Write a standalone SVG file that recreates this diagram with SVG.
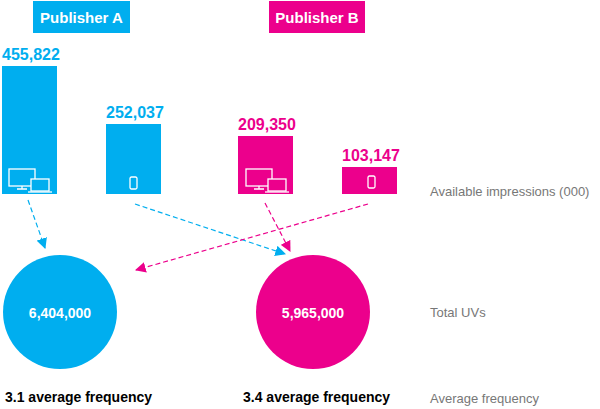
<svg xmlns="http://www.w3.org/2000/svg" width="600" height="409" viewBox="0 0 600 409">
<defs>
<style>
.b{fill:#00AEEF}.p{fill:#EC008C}
.t{font-family:"Liberation Sans",Arial,sans-serif;font-weight:bold}
.h{font-size:15px;fill:#fff}
.n{font-size:16px}
.g{font-family:"Liberation Sans",Arial,sans-serif;font-size:13px;fill:#777}
.ic{fill:none;stroke:#fff;stroke-width:1.3}
.lb{stroke:#00AEEF;stroke-width:1.2;stroke-dasharray:5,3;fill:none}
.lp{stroke:#EC008C;stroke-width:1.2;stroke-dasharray:5,3;fill:none}
</style>
<marker id="mb" viewBox="0 0 10 10" refX="9" refY="5" markerWidth="9" markerHeight="9" orient="auto"><path d="M0,0L10,5L0,10z" fill="#00AEEF"/></marker>
<marker id="mp" viewBox="0 0 10 10" refX="9" refY="5" markerWidth="9" markerHeight="9" orient="auto"><path d="M0,0L10,5L0,10z" fill="#EC008C"/></marker>
<g id="desk"><rect x="0" y="0" width="26" height="17" class="ic"/><path d="M13,17v3M8,20h10" class="ic"/><rect x="22" y="10" width="18" height="12" class="ic" style="fill:inherit"/><path d="M19,23h24" class="ic"/></g>
<g id="mob"><rect x="0" y="0" width="7" height="12" rx="1.5" class="ic"/></g>
</defs>
<g id="pubA"><rect x="33" y="1" width="97" height="32" class="b"/><text x="81.5" y="23" text-anchor="middle" class="t h">Publisher A</text></g>
<g id="pubB"><rect x="269" y="1" width="96" height="32" class="p"/><text x="317" y="23" text-anchor="middle" class="t h">Publisher B</text></g>
<g id="barA1"><rect x="2" y="66" width="55" height="128" class="b"/><text x="2" y="60" class="t n b">455,822</text><use href="#desk" x="9" y="169" style="fill:#00AEEF"/></g>
<g id="barA2"><rect x="106" y="124" width="55" height="70" class="b"/><text x="106" y="118" class="t n b">252,037</text><use href="#mob" x="130" y="177"/></g>
<g id="barB1"><rect x="238" y="136" width="55" height="58" class="p"/><text x="238" y="130" class="t n p">209,350</text><use href="#desk" x="246" y="169" style="fill:#EC008C"/></g>
<g id="barB2"><rect x="342" y="167" width="55" height="27" class="p"/><text x="342" y="161" class="t n p">103,147</text><use href="#mob" x="368" y="176"/></g>
<g id="connectors">
<path d="M28,200L45,248" class="lb" marker-end="url(#mb)"/>
<path d="M135,204L285,254" class="lb" marker-end="url(#mb)"/>
<path d="M265,203L290,251" class="lp" marker-end="url(#mp)"/>
<path d="M368,204L136,270" class="lp" marker-end="url(#mp)"/>
</g>
<g id="uvA"><circle cx="60" cy="312" r="57" class="b"/><text x="60" y="318" text-anchor="middle" class="t" font-size="14" fill="#fff">6,404,000</text></g>
<g id="uvB"><circle cx="313" cy="312" r="57" class="p"/><text x="313" y="318" text-anchor="middle" class="t" font-size="14" fill="#fff">5,965,000</text></g>
<text x="5" y="402" class="t" font-size="14">3.1 average frequency</text>
<text x="243" y="402" class="t" font-size="14">3.4 average frequency</text>
<text x="430" y="196" class="g">Available impressions (000)</text>
<text x="430" y="317" class="g">Total UVs</text>
<text x="430" y="403" class="g">Average frequency</text>
</svg>
